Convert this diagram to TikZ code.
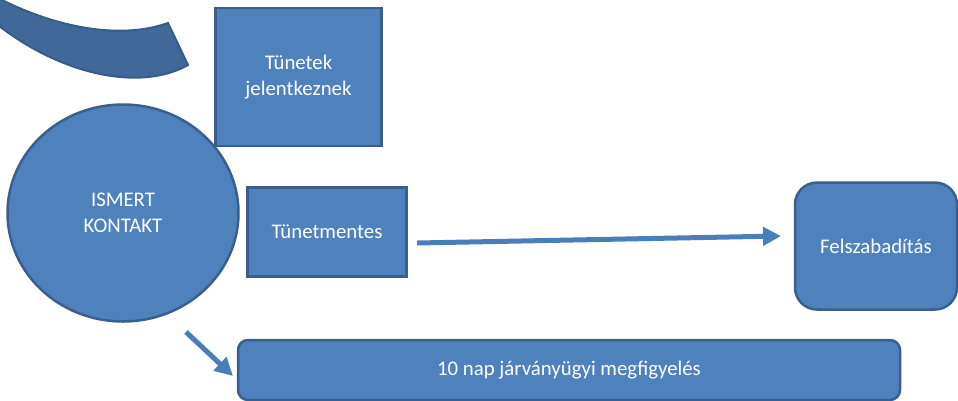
\documentclass[tikz,border=0pt]{standalone}
\usepackage{fontspec}
\setmainfont{Carlito}
\usetikzlibrary{shapes.geometric,arrows.meta}
\definecolor{boxfill}{HTML}{4F81BD}
\definecolor{boxline}{HTML}{3A5F8C}
\definecolor{bandfill}{HTML}{40699A}
\definecolor{bandline}{HTML}{375C89}
\definecolor{arrowcol}{HTML}{4A7EBB}
\tikzset{
  every node/.style={font=\fontsize{20.8}{25.5}\selectfont, text=white, align=center, inner sep=0pt},
  bluebox/.style={draw=boxline, line width=2.5pt, fill=boxfill},
  sqbox/.style={bluebox, rectangle},
  rbox/.style={bluebox, rectangle, rounded corners=#1},
  conn/.style={draw=arrowcol, line width=5pt, -{Triangle[length=18pt,width=18pt]}},
}
\begin{document}
\begin{tikzpicture}[x=1pt,y=-1pt]
\useasboundingbox (0,0) rectangle (958,400);
% curved band at top-left
\filldraw[fill=bandfill, draw=bandline, line width=2pt]
  (-6,-4) .. controls (55,28) and (120,40) .. (168,23)
  -- (188,65) .. controls (140,92) and (60,75) .. (-6,22) -- cycle;
% nodes
\node[bluebox, ellipse, minimum width=231pt, minimum height=217pt] (kontakt) at (123,213) {ISMERT\\KONTAKT};
\node[sqbox, minimum width=166pt, minimum height=138pt] (tunetek) at (298.5,77) {Tünetek\\jelentkeznek};
\node[sqbox, minimum width=159pt, minimum height=89pt] (mentes) at (327,232) {Tünetmentes};
\node[rbox=22pt, minimum width=162pt, minimum height=127pt] (felsz) at (876,246) {Felszabadítás};
\node[rbox=10pt, minimum width=662pt, minimum height=60pt] (nap) at (569,370) {10 nap járványügyi megfigyelés};
% connectors
\coordinate (h1) at (417,243);
\coordinate (h2) at (781,236);
\draw[conn] (h1) -- (h2);
\coordinate (d1) at (186,332);
\coordinate (d2) at (233,376);
\draw[conn] (d1) -- (d2);
\end{tikzpicture}
\end{document}
